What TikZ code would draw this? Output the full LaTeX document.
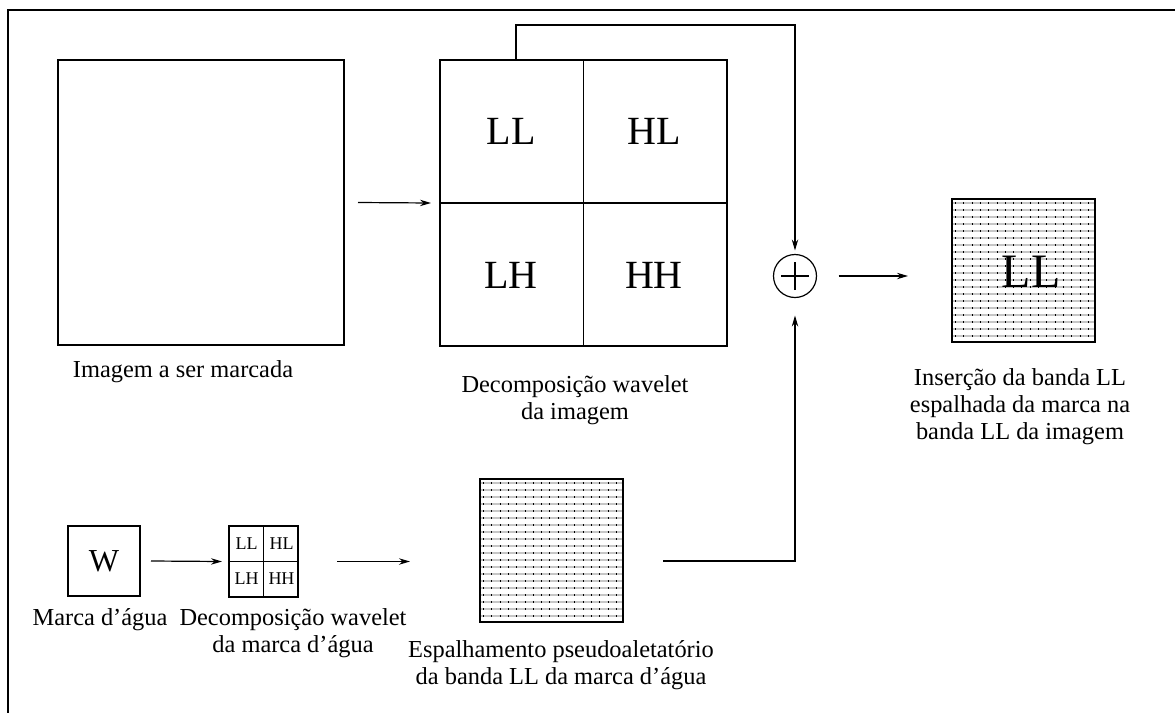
\documentclass[tikz,border=0pt]{standalone}
\usepackage{fontspec}
\setmainfont{Liberation Serif}
\usetikzlibrary{arrows.meta}
\begin{document}
\begin{tikzpicture}[x=0.5pt, y=-0.5pt]
\tikzset{ >={Stealth[length=5.5pt,width=3.2pt]}, inner sep=0pt, outer sep=0pt,
  fio/.style={line width=0.6pt},
  caixa/.style={draw, fio, rectangle},
  grade/.style={path picture={
    \foreach \k in {1,...,21}{
      \draw [gray!45, line width=0.6pt]
        ([yshift=-\k*3.5pt+1.5pt]path picture bounding box.north west) --
        ([yshift=-\k*3.5pt+1.5pt]path picture bounding box.north east);
      \draw [line width=1.2pt, dash pattern=on 0.5pt off 3.65pt, dash phase=-1.5pt]
        ([yshift=-\k*3.5pt+1.5pt]path picture bounding box.north west) --
        ([yshift=-\k*3.5pt+1.5pt]path picture bounding box.north east);
    }}},
  rotulo/.style={align=center, font=\fontsize{12.2}{13.5}\selectfont},
  banda/.style={font=\fontsize{20}{20}\selectfont},
  bandinha/.style={font=\fontsize{9}{9}\selectfont},
}
\useasboundingbox (0,0) rectangle (1175,713);

% moldura
\draw [fio] (1175,10) -- (8,10) -- (8,713);

% imagem e sua decomposicao
\node [caixa, minimum width=143pt, minimum height=142.5pt] (img) at (201,202.5) {};
\node [caixa, minimum width=143.5pt, minimum height=143pt] (dwt) at (583.5,203) {};
\draw [fio] (dwt.north) -- (dwt.south);
\draw [fio] (dwt.west)  -- (dwt.east);

\node [banda] (LL) at (511,131) {LL};
\node [banda] (HL) at (654,131) {HL};
\node [banda] (LH) at (511,275) {LH};
\node [banda] (HH) at (654,275) {HH};

\node [draw, circle, fio, minimum size=21.5pt] (soma) at (795,276) {};
\draw [fio] ([xshift=-7pt]soma.center) -- ([xshift=7pt]soma.center);
\draw [fio] ([yshift=-7pt]soma.center) -- ([yshift=7pt]soma.center);

\node [caixa, grade, minimum width=71.5pt, minimum height=71.5pt] (ins) at (1023.5,270.5) {};
\node [font=\fontsize{24}{24}\selectfont] (insLL) at (1031,272) {LL};

% marca d'agua
\node [caixa, minimum width=36pt, minimum height=35pt, font=\fontsize{16}{16}\selectfont] (W) at (104,561) {W};
\node [caixa, minimum width=34.5pt, minimum height=35.5pt] (dwtw) at (263.5,561.5) {};
\draw [fio] (dwtw.north) -- (dwtw.south);
\draw [fio] (dwtw.west)  -- (dwtw.east);

\node [bandinha] (wLL) at (246.5,544) {LL};
\node [bandinha] (wHL) at (281.5,544) {HL};
\node [bandinha] (wLH) at (246.5,579) {LH};
\node [bandinha] (wHH) at (281.5,579) {HH};

\node [caixa, grade, minimum width=71.5pt, minimum height=71.5pt] (esp) at (551.5,550.5) {};

% setas
\coordinate (topo) at (516,25);
\draw [->, fio] ([xshift=7pt]img.east) -- ([xshift=-4.5pt]dwt.west);
\draw [->, fio] (dwt.north -| topo) -- (topo) -| ([yshift=2pt]soma.north);
\draw [->, fio] ([xshift=11pt]soma.east) -- ([xshift=-22pt]soma.east -| ins.west);
\draw [->, fio] ([xshift=5.5pt]W.east) -- ([xshift=-3.5pt]dwtw.west);
\draw [->, fio] ([xshift=19.5pt]dwtw.east) -- ([xshift=-35pt]dwtw.east -| esp.west);
\draw [->, fio] ([xshift=20pt,yshift=-5.25pt]esp.east) -| ([yshift=-9pt]soma.south);

% rotulos
\node [rotulo] (lImg)  at (183,372)  {Imagem a ser marcada};
\node [rotulo] (lDwt)  at (575,400)  {Decomposição wavelet\\da imagem};
\node [rotulo] (lIns)  at (1020,407) {Inserção da banda LL\\espalhada da marca na\\banda LL da imagem};
\node [rotulo] (lW)    at (100,620)  {Marca d’água};
\node [rotulo] (lDwtw) at (293,633)  {Decomposição wavelet\\da marca d’água};
\node [rotulo] (lEsp)  at (561,665)  {Espalhamento pseudoaletatório\\da banda LL da marca d’água};

\end{tikzpicture}
\end{document}
